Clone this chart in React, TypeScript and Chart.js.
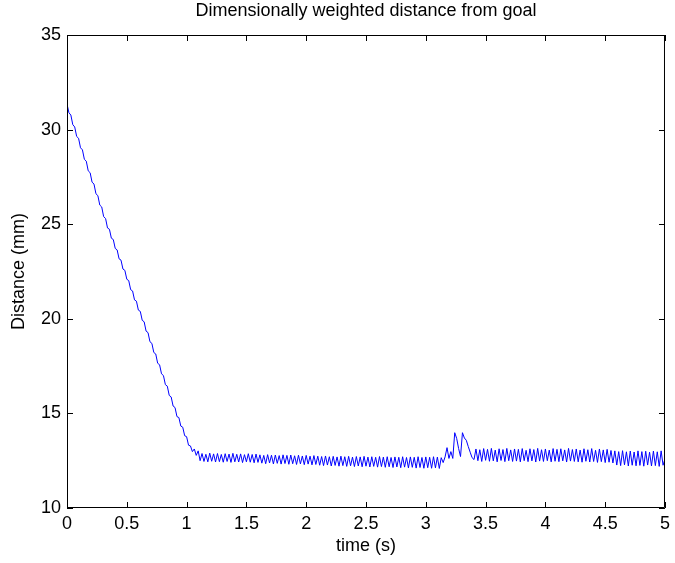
import React, { useEffect, useRef } from "react";
import { Chart, registerables } from "chart.js";

Chart.register(...registerables);

const chartTitle = "Dimensionally weighted distance from goal";
const xAxisLabel = "time (s)";
const yAxisLabel = "Distance (mm)";

const xMin = 0;
const xMax = 5;
const yMin = 10;
const yMax = 35;
const xTickValues = [0, 0.5, 1, 1.5, 2, 2.5, 3, 3.5, 4, 4.5, 5];
const xTickLabels = ["0", "0.5", "1", "1.5", "2", "2.5", "3", "3.5", "4", "4.5", "5"];
const yTickValues = [10, 15, 20, 25, 30, 35];
const yTickLabels = ["10", "15", "20", "25", "30", "35"];

// distance samples (mm) at a uniform time step from 0 s to 5 s
const descentValues = [
  31.35, 30.89, 30.77, 30.26, 30.14, 29.64, 29.54, 29.04, 28.93, 28.43,
  28.33, 27.82, 27.72, 27.22, 27.12, 26.61, 26.51, 26.01, 25.91, 25.4,
  25.3, 24.8, 24.73, 24.26, 24.19, 23.72, 23.64, 23.17, 23.1, 22.63,
  22.56, 22.09, 22.02, 21.54, 21.47, 21.0, 20.93, 20.46, 20.39, 19.92,
  19.84, 19.35, 19.27, 18.79, 18.7, 18.22, 18.14, 17.65, 17.57, 17.09,
  17.0, 16.52, 16.44, 15.95, 15.87, 15.39, 15.31, 14.83, 14.78, 14.33,
  14.27, 13.82, 13.77, 13.32, 13.28, 12.98, 13.12, 12.78, 13.02, 12.5,
];

const plateauBeforeValues = [
  12.88, 12.46, 12.84, 12.44, 12.9, 12.47, 12.86, 12.43, 12.88, 12.45,
  12.83, 12.42, 12.87, 12.46, 12.85, 12.41, 12.89, 12.44, 12.84, 12.43,
  12.86, 12.4, 12.82, 12.44, 12.87, 12.42, 12.83, 12.39, 12.85, 12.41,
  12.81, 12.37, 12.78, 12.34, 12.82, 12.38, 12.79, 12.33, 12.8, 12.36,
  12.77, 12.32, 12.81, 12.35, 12.78, 12.31, 12.8, 12.34, 12.76, 12.3,
  12.79, 12.33, 12.75, 12.29, 12.78, 12.32, 12.74, 12.28, 12.77, 12.3,
  12.74, 12.26, 12.72, 12.24, 12.75, 12.27, 12.71, 12.22, 12.73, 12.25,
  12.7, 12.21, 12.74, 12.24, 12.71, 12.2, 12.73, 12.23, 12.69, 12.19,
  12.72, 12.22, 12.7, 12.18, 12.73, 12.21, 12.69, 12.17, 12.71, 12.2,
  12.68, 12.16, 12.72, 12.19, 12.69, 12.15, 12.71, 12.18, 12.67, 12.14,
  12.7, 12.17, 12.68, 12.13, 12.71, 12.16, 12.67, 12.12, 12.7, 12.15,
  12.68, 12.11, 12.71, 12.14, 12.67, 12.1, 12.7, 12.13, 12.68, 12.1,
  12.71, 12.12, 12.69, 12.09, 12.66,
];

const bumpValues = [
  12.4, 12.7, 13.19, 12.62, 12.98, 12.62, 13.98, 13.68, 13.15, 12.72,
  13.98, 13.7, 13.58, 13.25, 12.95, 12.66, 12.56,
];

const plateauAfterValues = [
  13.12, 12.5, 13.08, 12.46, 13.14, 12.52, 13.1, 12.47, 13.15, 12.49,
  13.06, 12.44, 13.13, 12.51, 13.09, 12.45, 13.15, 12.5, 13.07, 12.46,
  13.12, 12.48, 13.1, 12.44, 13.14, 12.5, 13.05, 12.45, 13.13, 12.49,
  13.09, 12.43, 13.15, 12.48, 13.08, 12.46, 13.12, 12.5, 13.06, 12.44,
  13.14, 12.47, 13.1, 12.45, 13.13, 12.49, 13.07, 12.43, 13.15, 12.48,
  13.09, 12.46, 13.12, 12.44, 13.06, 12.42, 13.13, 12.47, 13.08, 12.43,
  13.14, 12.46, 13.05, 12.41, 13.12, 12.45, 13.07, 12.4, 13.1, 12.42,
  13.04, 12.38,
  13.02, 12.27, 12.98, 12.24, 13.03, 12.28, 12.97, 12.22, 13.01, 12.26,
  12.96, 12.23, 13.02, 12.25, 12.98, 12.21, 13.0, 12.27, 12.95, 12.22,
  13.01, 12.24, 12.97, 12.2, 13.02, 12.26, 12.6,
];

const distanceValues = [
  ...descentValues,
  ...plateauBeforeValues,
  ...bumpValues,
  ...plateauAfterValues,
];

const FONT_FAMILY = "'Liberation Sans', Arial, Helvetica, sans-serif";

const framePlugin = {
  id: "matlabFrame",
  afterDraw(chart: any) {
    const { ctx, chartArea, scales } = chart;
    const { left, right, top, bottom } = chartArea;
    const tickLen = 6;
    ctx.save();
    ctx.strokeStyle = "#000000";
    ctx.lineWidth = 1;
    ctx.beginPath();
    ctx.rect(left + 0.5, top + 0.5, right - left - 1, bottom - top - 1);
    for (const v of xTickValues) {
      const px = Math.round(scales.x.getPixelForValue(v)) + 0.5;
      ctx.moveTo(px, bottom);
      ctx.lineTo(px, bottom - tickLen);
      ctx.moveTo(px, top);
      ctx.lineTo(px, top + tickLen);
    }
    for (const v of yTickValues) {
      const py = Math.round(scales.y.getPixelForValue(v)) + 0.5;
      ctx.moveTo(left, py);
      ctx.lineTo(left + tickLen, py);
      ctx.moveTo(right, py);
      ctx.lineTo(right - tickLen, py);
    }
    ctx.stroke();
    ctx.fillStyle = "#000000";
    ctx.font = `18px ${FONT_FAMILY}`;
    ctx.textAlign = "center";
    ctx.textBaseline = "alphabetic";
    ctx.fillText(chartTitle, (left + right) / 2, 16);
    ctx.restore();
  },
};

export default function App() {
  const canvasRef = useRef<HTMLCanvasElement | null>(null);

  useEffect(() => {
    document.body.style.margin = "0";
    const canvas = canvasRef.current;
    if (!canvas) return;
    const points = distanceValues.map((v, i) => ({
      x: (i * (xMax - xMin)) / (distanceValues.length - 1),
      y: v,
    }));
    const chart = new Chart(canvas, {
      type: "line",
      data: {
        datasets: [
          {
            data: points,
            borderColor: "#0000FF",
            borderWidth: 1,
            pointRadius: 0,
            fill: false,
            tension: 0,
          },
        ],
      },
      options: {
        responsive: false,
        animation: false,
        devicePixelRatio: 1,
        layout: { padding: { left: 0, top: 35, right: 7, bottom: 0 } },
        plugins: {
          legend: { display: false },
          tooltip: { enabled: false },
          title: { display: false },
        },
        scales: {
          x: {
            type: "linear",
            min: xMin,
            max: xMax,
            afterFit(scale: any) {
              scale.height = 55;
            },
            afterBuildTicks(scale: any) {
              scale.ticks = xTickValues.map((v) => ({ value: v }));
            },
            ticks: {
              callback: (value: any) => {
                const idx = xTickValues.indexOf(Number(value));
                return idx >= 0 ? xTickLabels[idx] : "";
              },
              color: "#000000",
              padding: 5,
              maxRotation: 0,
              font: { family: FONT_FAMILY, size: 18 },
            },
            grid: { display: false, drawTicks: false },
            border: { display: false },
            title: {
              display: true,
              text: xAxisLabel,
              color: "#000000",
              font: { family: FONT_FAMILY, size: 18 },
              padding: { top: 0, bottom: 6 },
            },
          },
          y: {
            type: "linear",
            min: yMin,
            max: yMax,
            afterFit(scale: any) {
              scale.width = 67;
            },
            afterBuildTicks(scale: any) {
              scale.ticks = yTickValues.map((v) => ({ value: v }));
            },
            ticks: {
              callback: (value: any) => {
                const idx = yTickValues.indexOf(Number(value));
                return idx >= 0 ? yTickLabels[idx] : "";
              },
              color: "#000000",
              padding: 6,
              font: { family: FONT_FAMILY, size: 18 },
            },
            grid: { display: false, drawTicks: false },
            border: { display: false },
            title: {
              display: true,
              text: yAxisLabel,
              color: "#000000",
              font: { family: FONT_FAMILY, size: 18 },
              padding: { top: 8, bottom: 0 },
            },
          },
        },
      },
      plugins: [framePlugin],
    } as any);
    return () => chart.destroy();
  }, []);

  return (
    <div style={{ position: "absolute", left: 0, top: 0, width: 675, height: 563, background: "#ffffff" }}>
      <canvas ref={canvasRef} width={675} height={563} style={{ display: "block" }} />
    </div>
  );
}
